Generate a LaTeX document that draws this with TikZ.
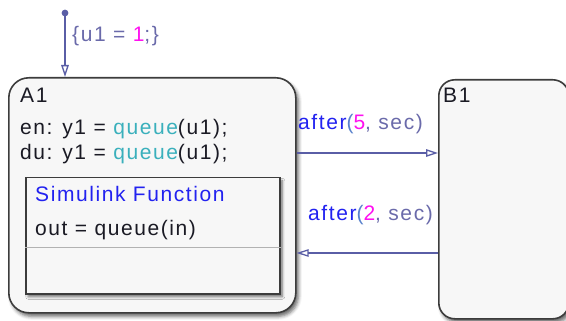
\documentclass[tikz,border=0pt]{standalone}
\usepackage{fontspec}
\setmainfont{Liberation Sans}[LetterSpace=7.5]
\usetikzlibrary{arrows.meta,shadows,shadows.blur}
\definecolor{txt}{HTML}{1A1A24}
\definecolor{teal}{HTML}{3AB0BC}
\definecolor{blu}{HTML}{2222F0}
\definecolor{gblu}{HTML}{6A6AAA}
\definecolor{pblu}{HTML}{5A82CC}
\definecolor{mag}{HTML}{FF10F0}
\definecolor{trans}{HTML}{5A5EA6}
\definecolor{edge}{HTML}{3C3C3C}
\tikzset{
  statebox/.style={draw=edge, line width=1.6pt, fill=white!97!black, rounded corners=#1,
    anchor=north west, inner sep=0pt,
    blur shadow={shadow xshift=2.5pt, shadow yshift=-3.5pt, shadow blur radius=3.5pt, shadow opacity=60}},
  funcbox/.style={draw=edge, line width=1.5pt, fill=white!97!black, anchor=north west, inner sep=0pt,
    blur shadow={shadow xshift=2.5pt, shadow yshift=-3pt, shadow blur radius=2.5pt, shadow opacity=55}},
  lbl/.style={anchor=base west, inner sep=0pt, font=\fontsize{21}{25}\selectfont, text=txt},
  transline/.style={draw=trans, line width=1.5pt, -{Triangle[open, length=12pt, width=7.5pt, line width=1.3pt]}},
}
\begin{document}
\begin{tikzpicture}[x=1pt, y=-1pt]
\useasboundingbox (0,0) rectangle (566,321);
% states
\node[statebox=20pt, minimum width=287pt, minimum height=235pt] (A1) at (8,77) {};
\node[statebox=16pt, minimum width=130pt, minimum height=239pt] (B1) at (438,79) {};
\node[funcbox, minimum width=254pt, minimum height=116pt] (F) at (25,177) {};
\draw[gray!60, line width=0.8pt] (F.west |- 0,247) coordinate (s1) -- (F.east |- 0,247) coordinate (s2);
% texts
\node[lbl] (tA) at (20,103) {A1};
\node[lbl] (ten) at (20,135) {en: y1 = \textcolor{teal}{queue}(u1);};
\node[lbl] (tdu) at (20,160) {du: y1 = \textcolor{teal}{queue}(u1);};
\node[lbl, text=blu] (tsf) at (35,201) {Simulink Function};
\node[lbl] (tout) at (35,236) {out = queue(in)};
\node[lbl] (tB) at (443,103) {B1};
% default transition
\fill[trans] (65,13) circle (3.4pt) coordinate (dot);
\coordinate (dotc) at (65,13);
\draw[transline] (dotc) -- (A1.north west -| dotc);
\node[lbl, text=gblu] (l0) at (72,42) {\{u1 = \textcolor{mag}{1};\}};
% transitions
\draw[transline] (A1.east |- 0,153) -- (B1.west |- 0,153);
\node[lbl, text=gblu] (l1) at (298,130) {\textcolor{blu}{after}\textcolor{pblu}{(}\textcolor{mag}{5}, sec)};
\draw[transline] (B1.west |- 0,253) -- (A1.east |- 0,253);
\node[lbl, text=gblu] (l2) at (308,220) {\textcolor{blu}{after}\textcolor{pblu}{(}\textcolor{mag}{2}, sec)};
\end{tikzpicture}
\end{document}
